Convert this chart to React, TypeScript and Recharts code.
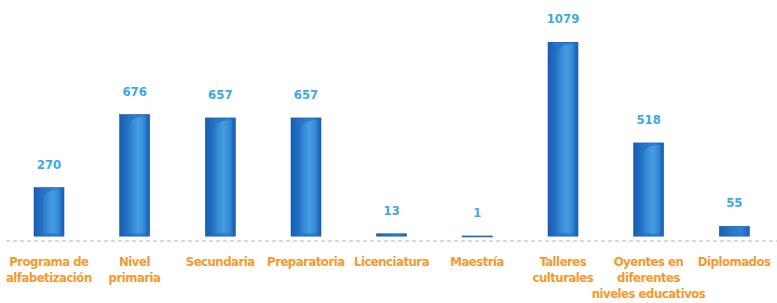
import { BarChart, Bar, XAxis, YAxis, LabelList } from 'recharts'

const categories = [
  ['Programa de', 'alfabetización'],
  ['Nivel', 'primaria'],
  ['Secundaria'],
  ['Preparatoria'],
  ['Licenciatura'],
  ['Maestría'],
  ['Talleres', 'culturales'],
  ['Oyentes en', 'diferentes', 'niveles educativos'],
  ['Diplomados'],
]
const values = [270, 676, 657, 657, 13, 1, 1079, 518, 55]

const data = categories.map((lines, i) => ({ name: lines.join(' '), lines, value: values[i] }))

const FONT = '"DejaVu Sans Condensed", "DejaVu Sans", sans-serif'

const CategoryTick = ({ x, y, index }: any) => {
  const lines = categories[index] || []
  return (
    <text
      x={x}
      y={y}
      textAnchor="middle"
      fill="#f39a2e"
      fontFamily={FONT}
      fontWeight={700}
      fontSize={13}
      style={{ fontStretch: 'condensed' }}
      letterSpacing={-0.5}
    >
      {lines.map((l, i) => (
        <tspan key={i} x={x} dy={i === 0 ? 25 : 16}>
          {l}
        </tspan>
      ))}
    </text>
  )
}

const BarShape = (props: any) => {
  const { x, y, width, height } = props
  if (height <= 0) return null
  const h = Math.max(height, 1)
  return (
    <g>
      <rect x={x} y={y} width={width} height={h} fill="url(#barFill)" stroke="#1a5aa8" strokeWidth={0.6} />
      {h > 14 && (
        <path
          d={`M${x + width * 0.3},${y + h - 3} L${x + width * 0.3},${y + 12} Q${x + width * 0.35},${y + 2} ${x + width * 0.88},${y + 2} L${x + width * 0.88},${y + h - 3} Z`}
          fill="url(#barShine)"
        />
      )}
    </g>
  )
}

const ValueLabel = ({ x, y, width, value }: any) => (
  <text
    x={x + width / 2}
    y={y - 19}
    textAnchor="middle"
    fill="#3ea8e8"
    fontFamily={FONT}
    fontWeight={700}
    fontSize={13}
    style={{ fontStretch: 'condensed' }}
  >
    {value}
  </text>
)

const App = () => (
  <div style={{ position: 'absolute', left: 0, top: 0, width: 777, height: 303, background: '#fff' }}>
    <BarChart
      width={777}
      height={303}
      data={data}
      margin={{ top: 42, right: 0, left: 6, bottom: 0 }}
      barCategoryGap={0}
    >
      <defs>
        <linearGradient id="barFill" x1="0" y1="0" x2="1" y2="0">
          <stop offset="0%" stopColor="#1a5db2" />
          <stop offset="30%" stopColor="#2474c8" />
          <stop offset="75%" stopColor="#2c82d3" />
          <stop offset="100%" stopColor="#1b60b4" />
        </linearGradient>
        <linearGradient id="barShine" x1="0" y1="0" x2="1" y2="0">
          <stop offset="0%" stopColor="#5ab0ec" stopOpacity={0.1} />
          <stop offset="55%" stopColor="#5ab0ec" stopOpacity={0.6} />
          <stop offset="100%" stopColor="#3b95dc" stopOpacity={0.35} />
        </linearGradient>
      </defs>
      <XAxis
        dataKey="name"
        interval={0}
        height={62}
        tickLine={false}
        tickSize={0}
        tickMargin={0}
        axisLine={{ stroke: '#b8b8b8', strokeDasharray: '4 3', strokeWidth: 1.2 }}
        tick={<CategoryTick />}
      />
      <YAxis hide domain={[-27, 1079]} allowDataOverflow />
      <Bar dataKey="value" barSize={30} shape={<BarShape />} isAnimationActive={false}>
        <LabelList dataKey="value" content={<ValueLabel />} />
      </Bar>
    </BarChart>
  </div>
)

export default App
